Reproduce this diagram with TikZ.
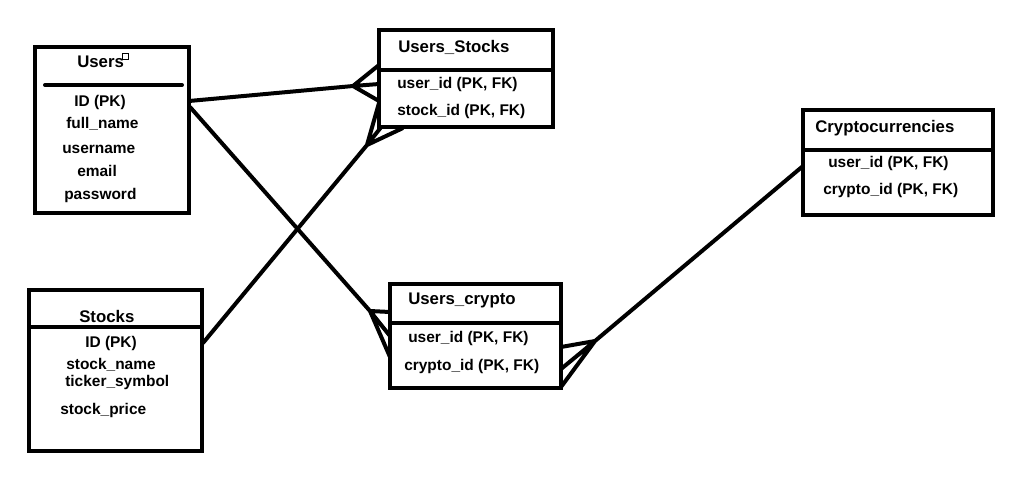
\documentclass[tikz,border=0pt]{standalone}
\usepackage{fontspec}
\setmainfont{Liberation Sans}
\usepackage{tikz}
\usetikzlibrary{positioning}

\begin{document}
\begin{tikzpicture}[x=0.75pt,y=0.75pt,yscale=-1,xscale=1,
  table/.style={draw,line width=3pt,rectangle,inner sep=0pt},
  ttl/.style={anchor=west,inner sep=0.75pt,font=\bfseries\fontsize{12.6}{14}\selectfont},
  fld/.style={anchor=west,inner sep=0.75pt,font=\bfseries\fontsize{11.6}{13}\selectfont},
  link/.style={line width=3pt,line join=round}]
  \useasboundingbox (0,0) rectangle (1022,480);

  %Shape: Rectangle [Users]
  \node (users) [table,minimum width=115.5pt,minimum height=124.5pt] at (112,130) {};
  \draw [line width=3pt,line cap=round] (45,85) -- (182,85);
  \draw [line width=0.6pt] (122,53) rectangle (128,59);
  %Shape: Rectangle [Users_Stocks]
  \node (ustocks) [table,minimum width=130.5pt,minimum height=72.75pt] at (466,78.5) {};
  \draw [line width=3pt] (ustocks.west |- 0,70) -- (ustocks.east |- 0,70);
  %Shape: Rectangle [Cryptocurrencies]
  \node (crypto) [table,minimum width=142.5pt,minimum height=78.75pt] at (898,162.5) {};
  \draw [line width=3pt] (crypto.west |- 0,150) -- (crypto.east |- 0,150);
  %Shape: Rectangle [Stocks]
  \node (stocks) [table,minimum width=129.75pt,minimum height=120.75pt] at (115.5,370.5) {};
  \draw [line width=3pt] (stocks.west |- 0,327) -- (stocks.east |- 0,327);
  %Shape: Rectangle [Users_crypto]
  \node (ucrypto) [table,minimum width=128.25pt,minimum height=78pt] at (475.5,336) {};
  \draw [line width=3pt] (ucrypto.west |- 0,323) -- (ucrypto.east |- 0,323);

  % Text Node
  \node (u-ttl) [ttl] at (76,62) {Users};
  \node (u-id) [fld] at (73,102) {ID (PK)};
  \node (u-fn) [fld] at (65,124) {full\_name};
  \node (u-un) [fld] at (61,149) {username};
  \node (u-em) [fld] at (76,171) {email};
  \node (u-pw) [fld] at (63,195) {password};
  % Text Node
  \node (us-ttl) [ttl] at (397,47) {Users\_Stocks};
  \node (us-uid) [fld] at (396,84) {user\_id (PK, FK)};
  \node (us-sid) [fld] at (396,111) {stock\_id (PK, FK)};
  % Text Node
  \node (c-ttl) [ttl] at (814,128) {Cryptocurrencies};
  \node (c-uid) [fld] at (827,163) {user\_id (PK, FK)};
  \node (c-cid) [fld] at (822,190) {crypto\_id (PK, FK)};
  % Text Node
  \node (s-ttl) [ttl] at (78,316) {Stocks};
  \node (s-id) [fld] at (84,343) {ID (PK)};
  \node (s-sn) [fld] at (65,365) {stock\_name};
  \node (s-ts) [fld] at (64,382) {ticker\_symbol};
  \node (s-sp) [fld] at (59,410) {stock\_price};
  % Text Node
  \node (uc-ttl) [ttl] at (407,300) {Users\_crypto};
  \node (uc-uid) [fld] at (407,338) {user\_id (PK, FK)};
  \node (uc-cid) [fld] at (403,366) {crypto\_id (PK, FK)};

  % Users -- Users_Stocks
  \coordinate (u-a) at (189,101);
  \coordinate (cf-us) at (353,86);
  \coordinate (us-a1) at (379,65);
  \coordinate (us-a2) at (379,84);
  \coordinate (us-a3) at (379,101);
  \draw [link] (u-a) -- (cf-us) -- (us-a1) (cf-us) -- (us-a2) (cf-us) -- (us-a3);
  % Stocks -- Users_Stocks
  \coordinate (s-a) at (203,343);
  \coordinate (cf-ss) at (367,145);
  \coordinate (us-b1) at (379,103);
  \coordinate (us-b2) at (382,126);
  \coordinate (us-b3) at (403,128);
  \draw [link] (s-a) -- (cf-ss) -- (us-b1) (cf-ss) -- (us-b2) (cf-ss) -- (us-b3);
  % Users -- Users_crypto
  \coordinate (u-b) at (190,107);
  \coordinate (cf-uc) at (370,311);
  \coordinate (uc-a1) at (390,312);
  \coordinate (uc-a2) at (390,336);
  \coordinate (uc-a3) at (390,357);
  \draw [link] (u-b) -- (cf-uc) -- (uc-a1) (cf-uc) -- (uc-a2) (cf-uc) -- (uc-a3);
  % Cryptocurrencies -- Users_crypto
  \coordinate (c-a) at (803,166);
  \coordinate (cf-cc) at (595,341);
  \coordinate (uc-b1) at (561,347);
  \coordinate (uc-b2) at (561,369);
  \coordinate (uc-b3) at (561,387);
  \draw [link] (c-a) -- (cf-cc) -- (uc-b1) (cf-cc) -- (uc-b2) (cf-cc) -- (uc-b3);

\end{tikzpicture}
\end{document}
